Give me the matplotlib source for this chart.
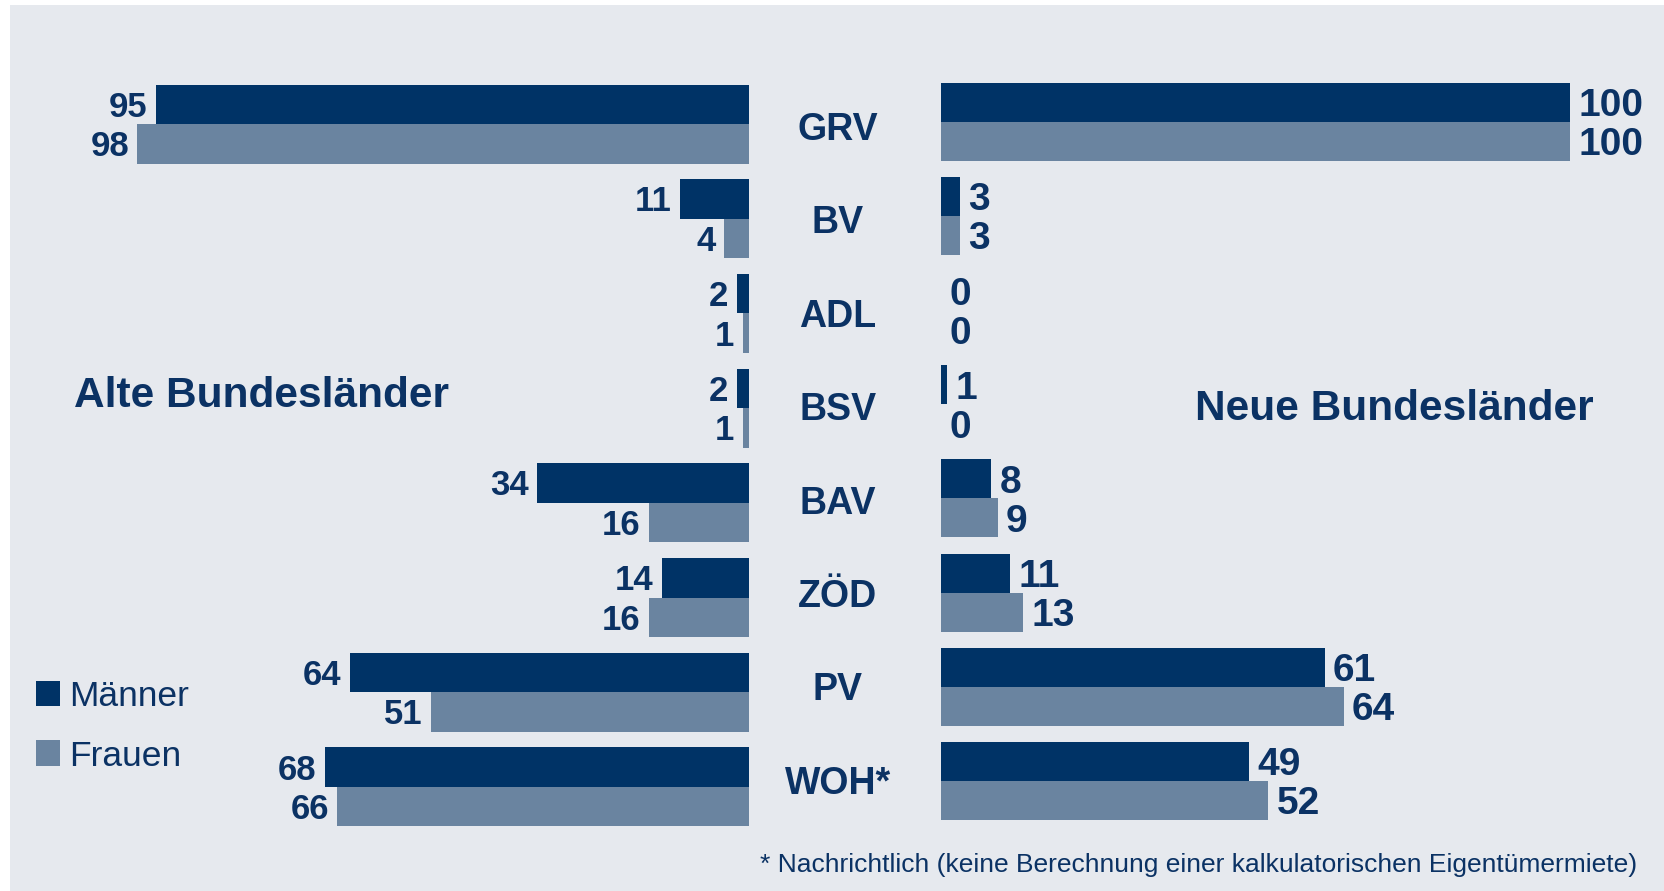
import matplotlib
matplotlib.use("Agg")
import matplotlib.pyplot as plt
from matplotlib.patches import Rectangle, Patch

plt.rcParams['font.family'] = ['Liberation Sans', 'DejaVu Sans']

# ---- data ----
categories = ["GRV", "BV", "ADL", "BSV", "BAV", "ZÖD", "PV", "WOH*"]
alt_maenner = [95, 11, 2, 2, 34, 14, 64, 68]
alt_frauen = [98, 4, 1, 1, 16, 16, 51, 66]
neu_maenner = [100, 3, 0, 1, 8, 11, 61, 49]
neu_frauen = [100, 3, 0, 0, 9, 13, 64, 52]
series_names = ["Männer", "Frauen"]
title_alt = "Alte Bundesländer"
title_neu = "Neue Bundesländer"
footnote = "* Nachrichtlich (keine Berechnung einer kalkulatorischen Eigentümermiete)"

# ---- style ----
C_M = "#003366"
C_F = "#6A84A0"
C_TXT = "#0B3264"
C_BG = "#E6E9EE"

W, H = 1664, 891
fig = plt.figure(figsize=(W / 100, H / 100), dpi=100)
fig.patch.set_facecolor("white")
fig.patches.append(Rectangle((10 / W, 0), 1 - 10 / W, 1 - 5 / H,
                             transform=fig.transFigure, facecolor=C_BG,
                             edgecolor="none", zorder=-10))


def px_axes(x0, x1, y0, y1):
    ax = fig.add_axes([x0 / W, 1 - y1 / H, (x1 - x0) / W, (y1 - y0) / H])
    ax.set_facecolor("none")
    ax.axis("off")
    ax.set_zorder(1)
    return ax


n = len(categories)
idx = list(range(n))

# left panel (Alte Bundesländer)
axL = px_axes(20, 749, 30, 860)
ppuL, y0L, stepL = 6.24, 124, 94.7
axL.set_xlim(729 / ppuL, 0)
axL.set_ylim((860 - y0L) / stepL, (30 - y0L) / stepL)
hL = 39.5 / stepL
axL.barh([i - hL / 2 for i in idx], alt_maenner, height=hL, color=C_M, label=series_names[0])
axL.barh([i + hL / 2 for i in idx], alt_frauen, height=hL, color=C_F, label=series_names[1])
for i in idx:
    for v, yy in ((alt_maenner[i], i - hL / 2), (alt_frauen[i], i + hL / 2)):
        axL.annotate(str(v), (v, yy), xytext=(-6, -8.9), textcoords="offset points",
                     ha="right", va="baseline", fontsize=25, fontweight="bold", color=C_TXT)

# right panel (Neue Bundesländer)
axR = px_axes(941, 1650, 30, 860)
ppuR, y0R, stepR = 6.29, 122, 94.1
axR.set_xlim(0, 709 / ppuR)
axR.set_ylim((860 - y0R) / stepR, (30 - y0R) / stepR)
hR = 39 / stepR
axR.barh([i - hR / 2 for i in idx], neu_maenner, height=hR, color=C_M)
axR.barh([i + hR / 2 for i in idx], neu_frauen, height=hR, color=C_F)
for i in idx:
    for v, yy in ((neu_maenner[i], i - hR / 2), (neu_frauen[i], i + hR / 2)):
        axR.annotate(str(v), (v, yy), xytext=(6, -10), textcoords="offset points",
                     ha="left", va="baseline", fontsize=28, fontweight="bold", color=C_TXT)

# category labels in the middle
axC = px_axes(760, 916, 30, 860)
y0C, stepC = 125.9, 93.43
axC.set_xlim(760, 916)
axC.set_ylim((860 - y0C) / stepC, (30 - y0C) / stepC)
for i, c in enumerate(categories):
    axC.annotate(c, (838, i), xytext=(0, -10), textcoords="offset points",
                 ha="center", va="baseline", fontsize=27, fontweight="bold", color=C_TXT)

# panel titles
fig.text(74 / W, 1 - 407 / H, title_alt, ha="left", va="baseline",
         fontsize=30.5, fontweight="bold", color=C_TXT)
fig.text(1195 / W, 1 - 420 / H, title_neu, ha="left", va="baseline",
         fontsize=30.5, fontweight="bold", color=C_TXT)

# legend
handles = [Patch(facecolor=C_M, edgecolor="none"), Patch(facecolor=C_F, edgecolor="none")]
leg = fig.legend(handles, series_names, loc="upper left",
                 bbox_to_anchor=(36 / W, 1 - 680 / H), frameon=False,
                 fontsize=25.5, handlelength=0.68, handleheight=0.73,
                 handletextpad=0.25, labelspacing=0.75, borderpad=0, borderaxespad=0)
for t in leg.get_texts():
    t.set_color(C_TXT)

# footnote
fig.text(1637 / W, 1 - 871.7 / H, footnote, ha="right", va="baseline",
         fontsize=19, color=C_TXT)

fig.savefig("out.png", dpi=100, facecolor=fig.get_facecolor())
